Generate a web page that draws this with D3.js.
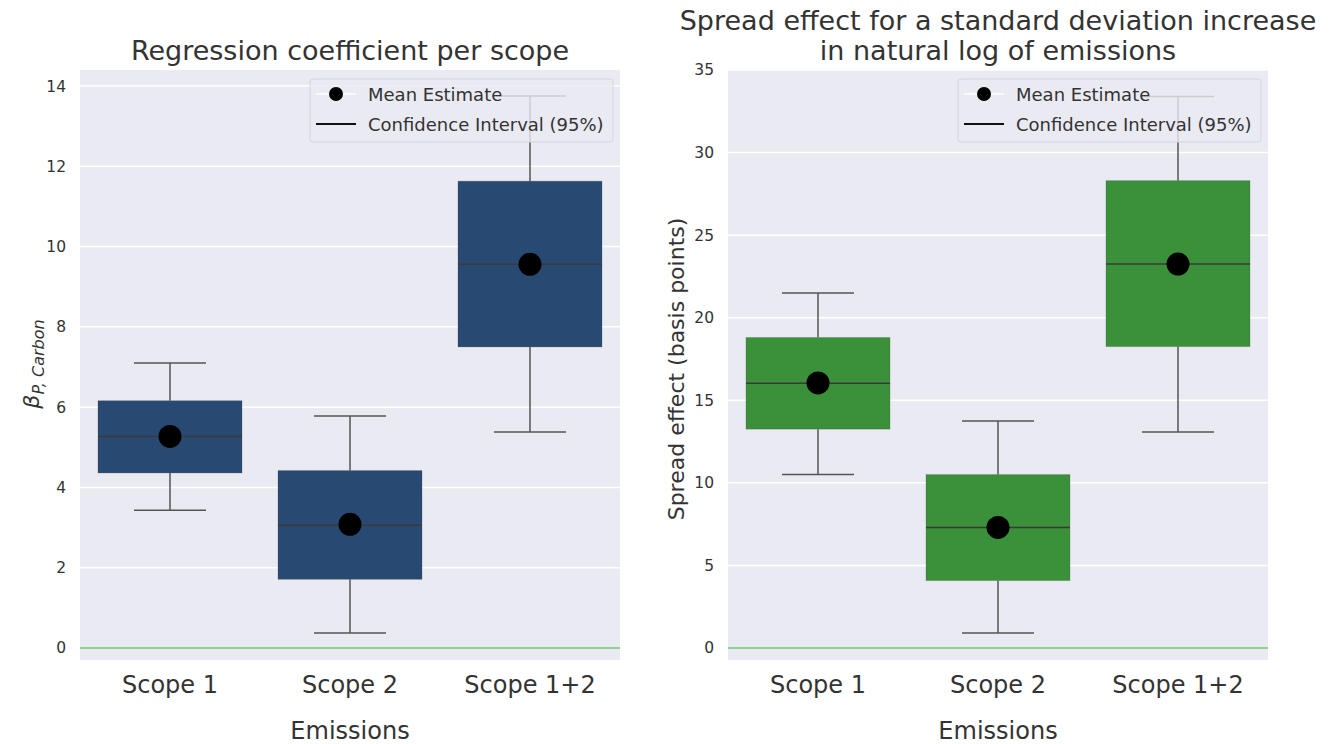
<!DOCTYPE html>
<html>
<head>
<meta charset="utf-8">
<script src="https://cdn.jsdelivr.net/npm/d3@7"></script>
<style>
  body { margin: 0; background: #fff; }
  svg text { font-family: "DejaVu Sans", sans-serif; fill: #333; }
</style>
</head>
<body>
<svg id="chart" width="1337" height="744"></svg>
<script>
const scopes = ["Scope 1", "Scope 2", "Scope 1+2"];

// regression coefficient (left panel)
const betaLow = [3.43, 0.37, 5.38];
const betaQ1 = [4.36, 1.71, 7.5];
const betaMedian = [5.27, 3.06, 9.56];
const betaQ3 = [6.16, 4.42, 11.63];
const betaHigh = [7.1, 5.78, 13.75];
const betaMean = [5.27, 3.08, 9.56];
const betaTicks = [0, 2, 4, 6, 8, 10, 12, 14];

// spread effect in basis points (right panel)
const spreadLow = [10.5, 0.9, 13.07];
const spreadQ1 = [13.25, 4.08, 18.25];
const spreadMedian = [16.03, 7.3, 23.25];
const spreadQ3 = [18.8, 10.5, 28.3];
const spreadHigh = [21.5, 13.75, 33.4];
const spreadMean = [16.05, 7.3, 23.25];
const spreadTicks = [0, 5, 10, 15, 20, 25, 30, 35];

const svg = d3.select("#chart");

const drawPanel = (opts) => {
  const { left, right, top, bottom, yDomain, ticks, color } = opts;

  const x = d3.scaleBand().domain(scopes).range([left, right]).padding(0);
  const y = d3.scaleLinear().domain(yDomain).range([bottom, top]);

  const g = svg.append("g");

  // axes background
  g.append("rect")
    .attr("x", left)
    .attr("y", top)
    .attr("width", right - left)
    .attr("height", bottom - top)
    .attr("fill", "#eaeaf2");

  // grid lines
  g.selectAll(".grid")
    .data(ticks)
    .enter()
    .append("line")
    .attr("x1", left)
    .attr("x2", right)
    .attr("y1", (d) => y(d))
    .attr("y2", (d) => y(d))
    .attr("stroke", "#fff")
    .attr("stroke-width", 1.5);

  // y tick labels
  const yAxis = d3.axisLeft(y).tickValues(ticks).tickSize(0).tickPadding(14);
  const ya = g.append("g").attr("transform", `translate(${left},0)`).call(yAxis);
  ya.select(".domain").remove();
  ya.selectAll("text").style("font-size", "15.5px").attr("fill", "#333");

  // x tick labels
  const xAxis = d3.axisBottom(x).tickSize(0).tickPadding(16);
  const xa = g.append("g").attr("transform", `translate(0,${bottom})`).call(xAxis);
  xa.select(".domain").remove();
  xa.selectAll("text").style("font-size", "24px").attr("fill", "#333");

  // zero line
  g.append("line")
    .attr("x1", left)
    .attr("x2", right)
    .attr("y1", y(0))
    .attr("y2", y(0))
    .attr("stroke", "#6cc36c")
    .attr("stroke-width", 1.5);

  const bw = x.bandwidth() * 0.8;
  const cx = (s) => x(s) + x.bandwidth() / 2;

  scopes.forEach((s, i) => {
    const c = cx(s);
    // whiskers
    g.append("line")
      .attr("x1", c).attr("x2", c)
      .attr("y1", y(opts.high[i])).attr("y2", y(opts.q3[i]))
      .attr("stroke", "#555").attr("stroke-width", 1.5);
    g.append("line")
      .attr("x1", c).attr("x2", c)
      .attr("y1", y(opts.q1[i])).attr("y2", y(opts.low[i]))
      .attr("stroke", "#555").attr("stroke-width", 1.5);
    // caps
    [opts.high[i], opts.low[i]].forEach((v) => {
      g.append("line")
        .attr("x1", c - bw / 4).attr("x2", c + bw / 4)
        .attr("y1", y(v)).attr("y2", y(v))
        .attr("stroke", "#555").attr("stroke-width", 1.5);
    });
    // box
    g.append("rect")
      .attr("x", c - bw / 2)
      .attr("y", y(opts.q3[i]))
      .attr("width", bw)
      .attr("height", y(opts.q1[i]) - y(opts.q3[i]))
      .attr("fill", color)
      .attr("stroke", "#4a4a4a")
      .attr("stroke-opacity", 0.25)
      .attr("stroke-width", 1);
    // median
    g.append("line")
      .attr("x1", c - bw / 2).attr("x2", c + bw / 2)
      .attr("y1", y(opts.median[i])).attr("y2", y(opts.median[i]))
      .attr("stroke", "#3a3a3a").attr("stroke-width", 1.5);
    // mean dot
    g.append("circle")
      .attr("cx", c)
      .attr("cy", y(opts.mean[i]))
      .attr("r", 11.5)
      .attr("fill", "#000");
  });

  // legend
  const lx = right - 310;
  const ly = top + 9;
  const lg = g.append("g").attr("transform", `translate(${lx},${ly})`);
  lg.append("rect")
    .attr("width", 303)
    .attr("height", 63)
    .attr("rx", 3)
    .attr("fill", "#eaeaf2")
    .attr("fill-opacity", 0.8)
    .attr("stroke", "#d4d4dc");
  lg.append("line")
    .attr("x1", 6).attr("x2", 46).attr("y1", 15).attr("y2", 15)
    .attr("stroke", "#fff").attr("stroke-width", 1.5);
  lg.append("circle").attr("cx", 26).attr("cy", 15).attr("r", 7).attr("fill", "#000");
  lg.append("line")
    .attr("x1", 6).attr("x2", 46).attr("y1", 45).attr("y2", 45)
    .attr("stroke", "#111").attr("stroke-width", 1.8);
  lg.append("text").attr("x", 58).attr("y", 21.5).style("font-size", "18px").text("Mean Estimate");
  lg.append("text").attr("x", 58).attr("y", 51.5).style("font-size", "18px").text("Confidence Interval (95%)");

  // titles
  opts.title.forEach((t, k) => {
    svg.append("text")
      .attr("x", (left + right) / 2)
      .attr("y", opts.titleY + k * 30)
      .attr("text-anchor", "middle")
      .style("font-size", "27px")
      .text(t);
  });

  svg.append("text")
    .attr("x", (left + right) / 2)
    .attr("y", 739)
    .attr("text-anchor", "middle")
    .style("font-size", "24px")
    .text("Emissions");

  return { x, y };
};

drawPanel({
  left: 80, right: 620, top: 70, bottom: 660,
  yDomain: [-0.3, 14.4], ticks: betaTicks, color: "#284a72",
  low: betaLow, q1: betaQ1, median: betaMedian, q3: betaQ3, high: betaHigh, mean: betaMean,
  title: ["Regression coefficient per scope"], titleY: 60,
});

drawPanel({
  left: 728, right: 1268, top: 70, bottom: 660,
  yDomain: [-0.73, 35.0], ticks: spreadTicks, color: "#3a913a",
  low: spreadLow, q1: spreadQ1, median: spreadMedian, q3: spreadQ3, high: spreadHigh, mean: spreadMean,
  title: ["Spread effect for a standard deviation increase", "in natural log of emissions"], titleY: 30,
});

// y axis labels
const betaLabel = svg.append("text")
  .attr("transform", "translate(39,364) rotate(-90)")
  .attr("text-anchor", "middle")
  .style("font-size", "22px")
  .style("font-style", "italic");
betaLabel.append("tspan").text("β");
betaLabel.append("tspan").attr("dy", 5).style("font-size", "16px").text("P, Carbon");

svg.append("text")
  .attr("transform", "translate(684,369) rotate(-90)")
  .attr("text-anchor", "middle")
  .style("font-size", "22px")
  .text("Spread effect (basis points)");
</script>
</body>
</html>
